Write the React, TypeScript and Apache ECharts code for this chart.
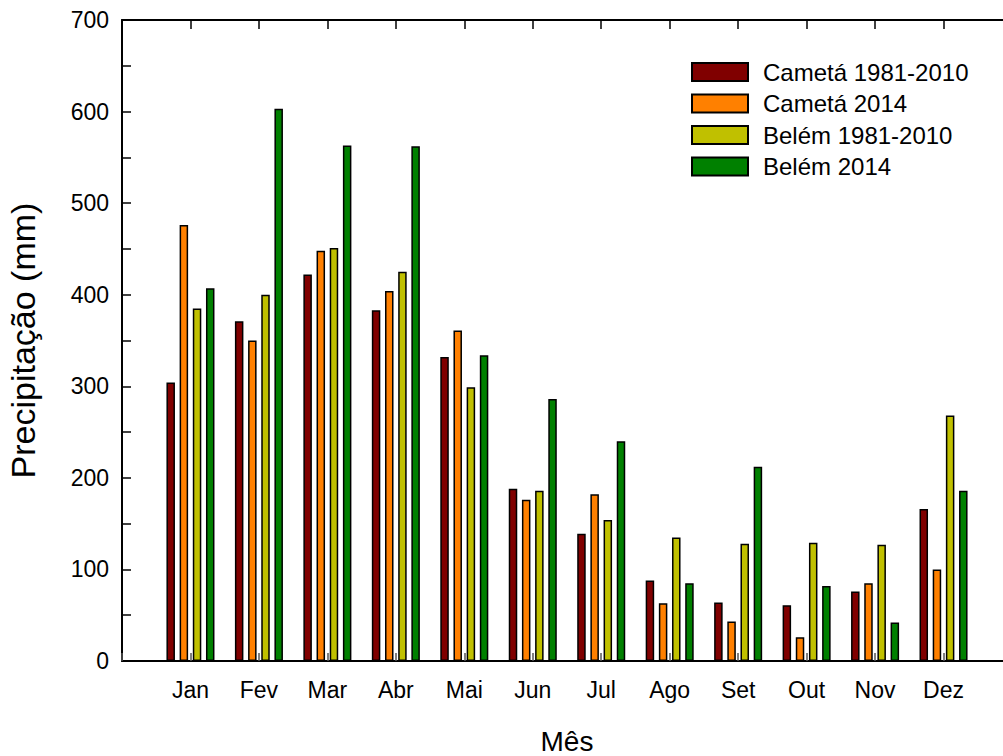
import React, { useEffect, useRef } from "react";
import * as echarts from "echarts";

const months = ["Jan", "Fev", "Mar", "Abr", "Mai", "Jun", "Jul", "Ago", "Set", "Out", "Nov", "Dez"];
const cameta19812010 = [304, 371, 422, 383, 332, 188, 139, 88, 64, 61, 76, 166];
const cameta2014 = [476, 350, 448, 404, 361, 176, 182, 63, 43, 26, 85, 100];
const belem19812010 = [385, 400, 451, 425, 299, 186, 154, 135, 128, 129, 127, 268];
const belem2014 = [407, 603, 563, 562, 334, 286, 240, 85, 212, 82, 42, 186];
const seriesNames = ["Cametá 1981-2010", "Cametá 2014", "Belém 1981-2010", "Belém 2014"];
const seriesColors = ["#800000", "#FF8000", "#C0C000", "#008000"];
const yTicks = [0, 100, 200, 300, 400, 500, 600, 700];

const FONT = "Liberation Sans, Arial, sans-serif";

export default function App() {
  const ref = useRef<HTMLDivElement>(null);
  useEffect(() => {
    if (!ref.current) return;
    const chart = echarts.init(ref.current, null, { renderer: "svg", width: 1003, height: 756 });
    const cats = ["", ...months, ""];
    const pad = (arr: number[]) => [null, ...arr, null];
    const all = [cameta19812010, cameta2014, belem19812010, belem2014];
    chart.setOption({
      animation: false,
      backgroundColor: "#ffffff",
      textStyle: { fontFamily: FONT },
      grid: { left: 122, top: 20, width: 890, height: 641, containLabel: false, outerBoundsMode: "none" },
      legend: {
        orient: "vertical",
        left: 691,
        top: 60,
        padding: 0,
        itemWidth: 56,
        itemHeight: 18,
        itemGap: 7.5,
        icon: "rect",
        data: seriesNames,
        textStyle: { fontFamily: FONT, fontSize: 24, color: "#000", lineHeight: 24, padding: [0, 0, 0, 10] },
        itemStyle: { borderColor: "#000", borderWidth: 2 },
      },
      xAxis: [
        {
          type: "category",
          data: cats,
          boundaryGap: false,
          position: "bottom",
          name: "Mês",
          nameLocation: "middle",
          nameGap: 66,
          nameTextStyle: { fontFamily: FONT, fontSize: 28, color: "#000", lineHeight: 28 },
          axisLine: { show: true, lineStyle: { color: "#000", width: 2 } },
          axisTick: { show: true, inside: true, length: 8, lineStyle: { color: "#555", width: 1.5 } },
          axisLabel: { show: true, interval: 0, margin: 17, fontFamily: FONT, fontSize: 23, color: "#000" },
          splitLine: { show: false },
        },
        {
          type: "category",
          data: cats,
          boundaryGap: false,
          position: "top",
          axisLine: { show: true, lineStyle: { color: "#000", width: 2 } },
          axisTick: { show: true, inside: true, length: 9, interval: 0, lineStyle: { color: "#000", width: 1.5 } },
          axisLabel: { show: false },
          splitLine: { show: false },
        },
      ],
      yAxis: {
        type: "value",
        min: 0,
        max: 700,
        interval: 50,
        name: "Precipitação (mm)",
        nameLocation: "middle",
        nameGap: 82,
        nameTextStyle: { fontFamily: FONT, fontSize: 34, color: "#000" },
        axisLine: { show: true, lineStyle: { color: "#000", width: 2 } },
        axisTick: { show: true, inside: true, length: 9, lineStyle: { color: "#000", width: 1.5 } },
        axisLabel: {
          margin: 13,
          fontFamily: FONT,
          fontSize: 23,
          color: "#000",
          formatter: (v: number) => (yTicks.includes(v) ? String(v) : ""),
        },
        splitLine: { show: false },
      },
      series: all.map((arr, i) => ({
        name: seriesNames[i],
        type: "bar",
        xAxisIndex: 0,
        data: pad(arr),
        barWidth: 8.5,
        barGap: "55%",
        itemStyle: { color: seriesColors[i], borderColor: "#000", borderWidth: 1.5 },
      })),
    });
    return () => chart.dispose();
  }, []);
  return (
    <div
      ref={ref}
      style={{ position: "fixed", left: 0, top: 0, width: 1003, height: 756, background: "#fff", overflow: "hidden" }}
    />
  );
}
